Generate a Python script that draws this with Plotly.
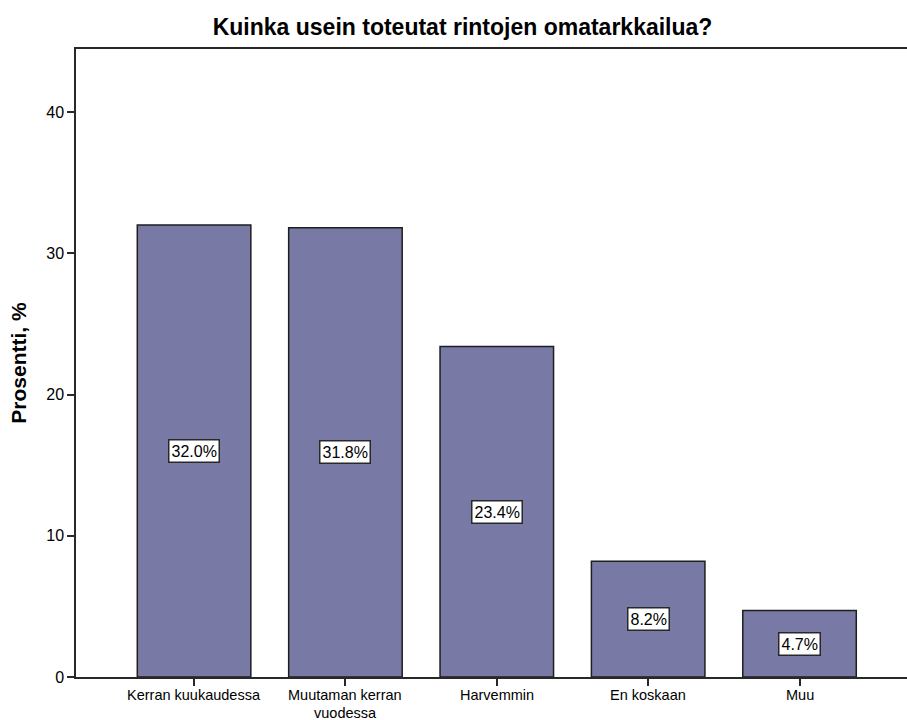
import plotly.graph_objects as go

categories = ["Kerran kuukaudessa", "Muutaman kerran<br>vuodessa", "Harvemmin", "En koskaan", "Muu"]
percentages = [32.0, 31.8, 23.4, 8.2, 4.7]
y_ticks = [0, 10, 20, 30, 40]

FONT = "Liberation Sans, Arial, sans-serif"
x_pos = list(range(len(categories)))

fig = go.Figure()
fig.add_trace(go.Bar(
    x=x_pos,
    y=percentages,
    width=0.75,
    marker=dict(color="rgb(121,121,166)", line=dict(color="rgb(30,30,30)", width=1.5)),
    hoverinfo="skip",
))

# Value labels in white boxes at mid-height of each bar
for xi, v in zip(x_pos, percentages):
    fig.add_annotation(
        x=xi, y=v / 2, text=f"{v:.1f}%", showarrow=False,
        font=dict(family=FONT, size=16, color="black"),
        bgcolor="white", bordercolor="rgb(40,40,40)", borderwidth=1.5, borderpad=2,
    )

# Category labels under the axis, with tight line spacing for wrapped names
for xi, cat in zip(x_pos, categories):
    for k, line in enumerate(cat.split("<br>")):
        fig.add_annotation(
            x=xi, xref="x", y=0, yref="paper", yanchor="middle",
            yshift=-18 - 18 * k, text=line, showarrow=False, borderpad=0,
            font=dict(family=FONT, size=14.5, color="black"),
        )

fig.update_layout(
    width=907, height=720,
    margin=dict(l=76, r=0, t=49, b=43),
    paper_bgcolor="white", plot_bgcolor="white",
    showlegend=False,
    title=dict(
        text="<b>Kuinka usein toteutat rintojen omatarkkailua?</b>",
        x=0.51, xanchor="center", y=0.962, yanchor="middle",
        font=dict(family=FONT, size=23, color="black"),
    ),
    font=dict(family=FONT, size=16, color="black"),
)

fig.update_xaxes(
    range=[-0.78, 4.71],
    tickmode="array", tickvals=x_pos, showticklabels=False,
    showline=True, linecolor="rgb(40,40,40)", linewidth=1.5, mirror=True,
    ticks="outside", ticklen=7, tickwidth=1.5, tickcolor="rgb(40,40,40)",
    showgrid=False, zeroline=False, automargin=False,
)
fig.update_yaxes(
    range=[0, 44.46],
    tickmode="array", tickvals=y_ticks,
    showline=True, linecolor="rgb(40,40,40)", linewidth=1.5,
    ticks="outside", ticklen=7, tickwidth=1.5, tickcolor="rgb(40,40,40)",
    tickfont=dict(family=FONT, size=16, color="black"),
    showgrid=False, zeroline=False, automargin=False,
    title=dict(text="<b>Prosentti, %</b>", font=dict(family=FONT, size=21, color="black"), standoff=14),
)

fig.write_html("out.html")
